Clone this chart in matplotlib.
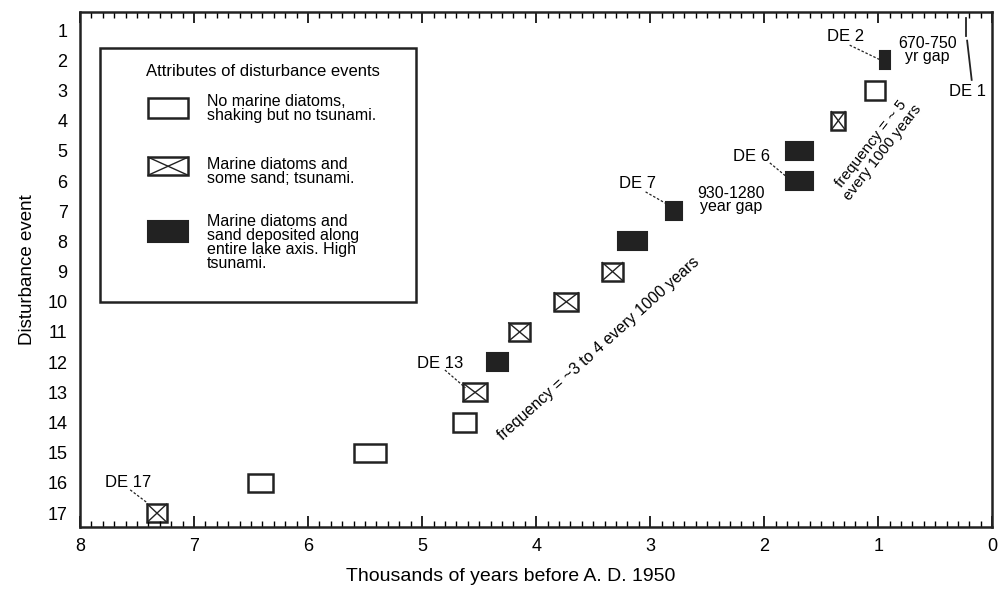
import matplotlib.pyplot as plt
from matplotlib.patches import Rectangle
from matplotlib.ticker import MultipleLocator

plt.rcParams['font.family'] = ['Liberation Sans', 'DejaVu Sans']

# disturbance events, age range in thousands of years before A.D. 1950
events = [17, 16, 15, 14, 13, 12, 11, 10, 9, 8, 7, 6, 5, 4, 3, 2]
age_old = [7.41, 6.53, 5.60, 4.73, 4.64, 4.43, 4.24, 3.84, 3.42, 3.28, 2.86, 1.81, 1.81, 1.41, 1.12, 0.98]
age_young = [7.24, 6.31, 5.32, 4.53, 4.43, 4.25, 4.05, 3.63, 3.24, 3.03, 2.72, 1.57, 1.57, 1.29, 0.94, 0.90]
kind = ['cross', 'open', 'open', 'open', 'cross', 'fill', 'cross', 'cross', 'cross',
        'fill', 'fill', 'fill', 'fill', 'cross', 'open', 'fill']
# DE 1 (A.D. 1700)
de1_age = 0.23

yticks = list(range(1, 18))
xticks = [8, 7, 6, 5, 4, 3, 2, 1, 0]

fig = plt.figure(figsize=(9.98, 5.92), dpi=100)
ax = fig.add_axes([0.0802, 0.1098, 0.914, 0.87])
ax.set_xlim(8, 0)
ax.set_ylim(17.46, 0.4)

h = 0.6
def draw_box(ax, x0, x1, y0, y1, k, trans=None):
    kw = {} if trans is None else {'transform': trans}
    if k == 'fill':
        ax.add_patch(Rectangle((x0, y0), x1 - x0, y1 - y0, fc='#222222', ec='#222222', lw=1.5, **kw))
    else:
        ax.add_patch(Rectangle((x0, y0), x1 - x0, y1 - y0, fc='white', ec='#222222', lw=1.8, **kw))
        if k == 'cross':
            ax.plot([x0, x1], [y0, y1], color='#222222', lw=1.0, **kw)
            ax.plot([x0, x1], [y1, y0], color='#222222', lw=1.0, **kw)

for e, o, yng, k in zip(events, age_old, age_young, kind):
    draw_box(ax, yng, o, e - h / 2, e + h / 2, k)

# DE 1 marker
ax.plot([de1_age, de1_age], [0.6, 1.2], color='#222222', lw=1.3)
ax.plot([de1_age - 0.01, de1_age - 0.05], [1.35, 2.65], color='#222222', lw=1.3)
ax.text(0.22, 3.05, 'DE 1', fontsize=12, ha='center', va='center')

# labels with leader lines
labels = [('DE 17', 7.58, 16.0, (7.56, 7.41), (16.23, 16.66)),
          ('DE 13', 4.84, 12.06, (4.80, 4.62), (12.26, 12.85)),
          ('DE 7', 3.11, 6.07, (3.04, 2.84), (6.36, 6.79)),
          ('DE 6', 2.11, 5.20, (1.95, 1.80), (5.40, 5.87)),
          ('DE 2', 1.29, 1.20, (1.25, 0.98), (1.50, 1.99))]
for txt, tx, ty, lx, ly in labels:
    ax.text(tx, ty, txt, fontsize=12, ha='center', va='center')
    ax.plot(lx, ly, color='#222222', lw=0.9, ls=(0, (2, 1.5)))

ax.text(2.29, 6.63, '930-1280\nyear gap', fontsize=11.5, ha='center', va='center', linespacing=0.9)
ax.text(0.57, 1.66, '670-750\nyr gap', fontsize=11.5, ha='center', va='center', linespacing=0.9)

ax.text(3.45, 11.55, 'frequency = ~3 to 4 every 1000 years', fontsize=11.5,
        rotation=42, ha='center', va='center', rotation_mode='anchor')
ax.text(1.01, 4.9, 'frequency = ~ 5\nevery 1000 years', fontsize=11,
        rotation=52, ha='center', va='center', rotation_mode='anchor', linespacing=1.0)

# legend drawn by hand
T = ax.transAxes
ax.add_patch(Rectangle((0.022, 0.437), 0.346, 0.493, transform=T, fc='white', ec='#222222', lw=1.8))
ax.text(0.2007, 0.885, 'Attributes of disturbance events', transform=T, fontsize=12, ha='center', va='center')
draw_box(ax, 0.0746, 0.1184, 0.794, 0.833, 'open', T)
draw_box(ax, 0.0746, 0.1184, 0.683, 0.718, 'cross', T)
draw_box(ax, 0.0746, 0.1184, 0.553, 0.594, 'fill', T)
ax.text(0.139, 0.812, 'No marine diatoms,\nshaking but no tsunami.', transform=T, fontsize=11.5,
        va='center', linespacing=0.9)
ax.text(0.139, 0.691, 'Marine diatoms and\nsome sand; tsunami.', transform=T, fontsize=11.5,
        va='center', linespacing=0.9)
ax.text(0.139, 0.607, 'Marine diatoms and\nsand deposited along\nentire lake axis. High\ntsunami.',
        transform=T, fontsize=11.5, va='top', linespacing=0.9)

ax.set_xticks(xticks)
ax.xaxis.set_minor_locator(MultipleLocator(0.1))
ax.set_yticks(yticks)
ax.tick_params(axis='x', which='major', direction='in', length=8, width=1.2, top=True, labelsize=13, pad=8)
ax.tick_params(axis='x', which='minor', direction='in', length=4, width=1.0, top=True)
ax.tick_params(axis='y', length=0, labelsize=13, pad=9)
for s in ax.spines.values():
    s.set_linewidth(1.8)
    s.set_color('#222222')

ax.set_xlabel('Thousands of years before A. D. 1950', fontsize=14)
ax.xaxis.set_label_coords(0.472, -0.08)
ax.set_ylabel('Disturbance event', fontsize=13.5, labelpad=8)

fig.savefig('out.png', dpi=100)
